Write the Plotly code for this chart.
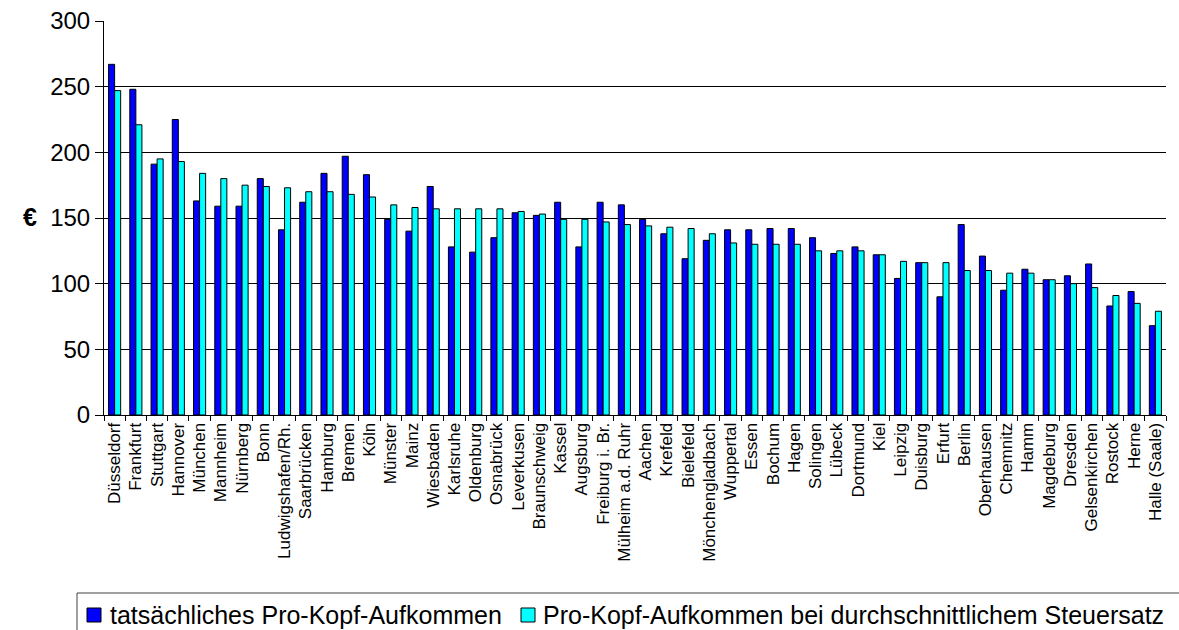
import plotly.graph_objects as go

cities = ["Düsseldorf", "Frankfurt", "Stuttgart", "Hannover", "München", "Mannheim", "Nürnberg", "Bonn",
          "Ludwigshafen/Rh.", "Saarbrücken", "Hamburg", "Bremen", "Köln", "Münster", "Mainz", "Wiesbaden",
          "Karlsruhe", "Oldenburg", "Osnabrück", "Leverkusen", "Braunschweig", "Kassel", "Augsburg",
          "Freiburg i. Br.", "Mülheim a.d. Ruhr", "Aachen", "Krefeld", "Bielefeld", "Mönchengladbach",
          "Wuppertal", "Essen", "Bochum", "Hagen", "Solingen", "Lübeck", "Dortmund", "Kiel", "Leipzig",
          "Duisburg", "Erfurt", "Berlin", "Oberhausen", "Chemnitz", "Hamm", "Magdeburg", "Dresden",
          "Gelsenkirchen", "Rostock", "Herne", "Halle (Saale)"]

actual = [267, 248, 191, 225, 163, 159, 159, 180, 141, 162, 184, 197, 183, 149, 140, 174,
          128, 124, 135, 154, 152, 162, 128, 162, 160, 149, 138, 119, 133, 141, 141, 142,
          142, 135, 123, 128, 122, 104, 116, 90, 145, 121, 95, 111, 103, 106, 115, 83, 94, 68]

average_rate = [247, 221, 195, 193, 184, 180, 175, 174, 173, 170, 170, 168, 166, 160, 158, 157,
                157, 157, 157, 155, 153, 149, 149, 147, 145, 144, 143, 142, 138, 131, 130, 130,
                130, 125, 125, 125, 122, 117, 116, 116, 110, 110, 108, 108, 103, 100, 97, 91, 85, 79]

series_names = ["tatsächliches Pro-Kopf-Aufkommen", "Pro-Kopf-Aufkommen bei durchschnittlichem Steuersatz"]
series_colors = ["#0000FF", "#00FFFF"]

font = "Arial, Liberation Sans, sans-serif"

W, H = 1179, 630
ML, MR, MT, MB = 104, 13, 21, 215
PW, PH = W - ML - MR, H - MT - MB


def px(x):
    return (x - ML) / PW


def py(y):
    return (H - MB - y) / PH


fig = go.Figure()
for name, vals, col in zip(series_names, [actual, average_rate], series_colors):
    fig.add_trace(go.Bar(x=cities, y=vals, name=name, showlegend=False,
                         marker=dict(color=col, line=dict(color="black", width=1))))

# manual legend (box partly clipped by the right edge as in the original)
shapes = [dict(type="rect", xref="paper", yref="paper", x0=px(77), x1=px(1230), y0=py(593), y1=py(660),
               line=dict(color="#404040", width=1), fillcolor="rgba(0,0,0,0)", layer="above")]
annotations = [dict(text="<b>€</b>", x=px(21), y=py(217), xref="paper", yref="paper",
                    showarrow=False, font=dict(size=25, family=font, color="black"))]
legend_pos = [(87, 110), (521, 543)]
for (sx, tx), name, col in zip(legend_pos, series_names, series_colors):
    shapes.append(dict(type="rect", xref="paper", yref="paper", x0=px(sx), x1=px(sx + 14),
                       y0=py(608), y1=py(622), line=dict(color="black", width=1), fillcolor=col, layer="above"))
    annotations.append(dict(text=name, x=px(tx - 2), y=py(615), xref="paper", yref="paper",
                            xanchor="left", yanchor="middle", showarrow=False,
                            font=dict(size=25, family=font, color="black")))

fig.update_layout(
    width=W, height=H,
    margin=dict(l=ML, r=MR, t=MT, b=MB, autoexpand=False),
    paper_bgcolor="white", plot_bgcolor="white",
    barmode="group", bargap=0.43, bargroupgap=0,
    font=dict(family=font, color="black"),
    showlegend=False,
    shapes=shapes,
    annotations=annotations,
)
fig.update_xaxes(tickangle=-90, tickfont=dict(size=17, family=font), showline=True, linecolor="black",
                 ticks="outside", tickson="boundaries", ticklen=5, tickcolor="black", showgrid=False,
                 automargin=False)
fig.update_yaxes(range=[0, 300], dtick=50, tickfont=dict(size=24, family=font), showline=True,
                 linecolor="black", ticks="outside", ticklen=8, tickcolor="black",
                 gridcolor="black", gridwidth=1, zeroline=False, automargin=False)

fig.write_html("out.html", config={"displayModeBar": False},
               post_script="document.body.style.margin='0';")
